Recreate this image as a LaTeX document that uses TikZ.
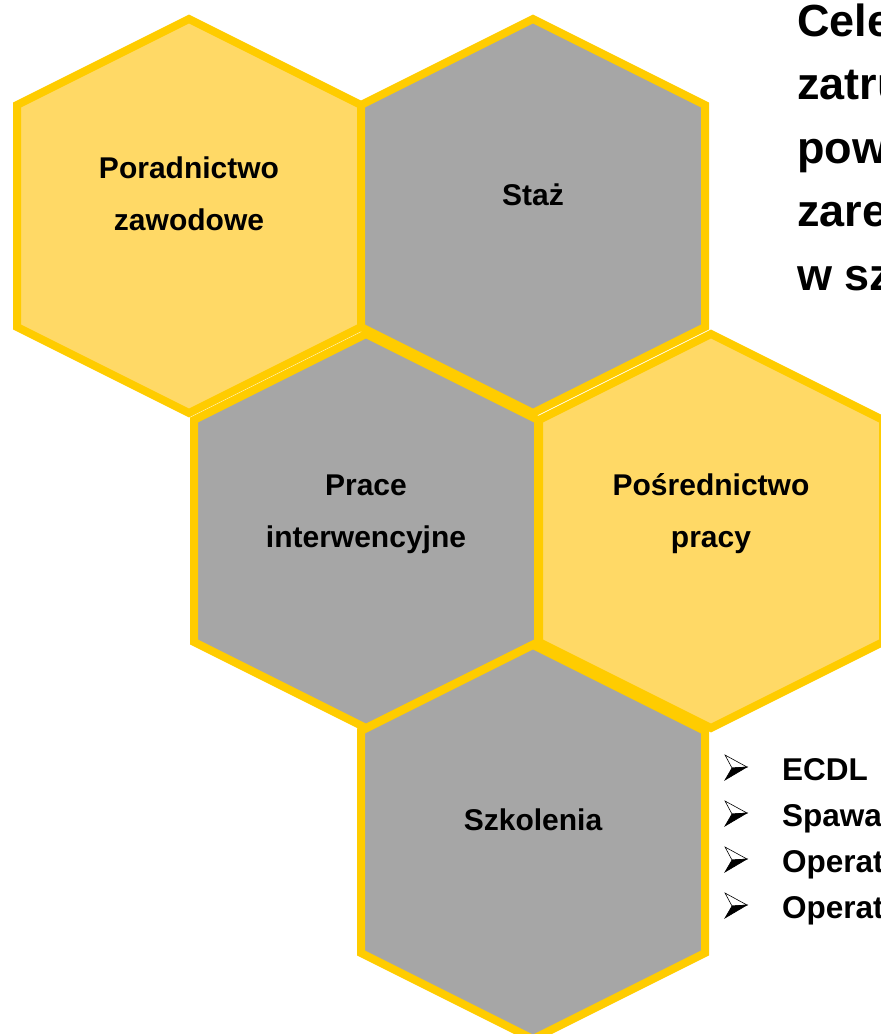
\documentclass[tikz,border=0pt]{standalone}
\usepackage{fontspec}
\setmainfont{Liberation Sans}
\definecolor{hexgold}{HTML}{FFCC00}
\definecolor{hexlight}{HTML}{FFD966}
\definecolor{hexgray}{HTML}{A6A6A6}
\tikzset{
  hexcell/.pic={\path[pic actions] (0,-197) -- (172,-111) -- (172,111) -- (0,197) -- (-172,111) -- (-172,-111) -- cycle;},
  hexline/.style={draw=hexgold, line width=8pt, line join=miter, miter limit=10},
  lightcell/.style={hexline, fill=hexlight},
  graycell/.style={hexline, fill=hexgray},
  celltext/.style={font=\bfseries\fontsize{30}{52}\selectfont, align=center, anchor=base, inner sep=0pt},
  headtext/.style={font=\bfseries\fontsize{45}{63.5}\selectfont, align=left, anchor=base west, inner sep=0pt},
  listtext/.style={font=\bfseries\fontsize{31.5}{46}\selectfont, align=left, anchor=base west, inner sep=0pt},
  arrowbullet/.pic={
    \draw[line width=0.6pt, fill=white, line join=miter] (0,-13) -- (22,-1) -- (7,0) -- cycle;
    \fill[black] (7,0) -- (22,-1) -- (0,12) -- cycle;
    \draw[line width=0.6pt, line join=miter] (7,0) -- (22,-1) -- (0,12) -- cycle;
  }
}
\begin{document}
\begin{tikzpicture}[x=1pt, y=-1pt]
  \useasboundingbox (0,0) rectangle (881,1034);
  \clip (0,0) rectangle (881,1034);
  % hexagons
  \pic[lightcell] at (189,216) {hexcell};
  \pic[graycell]  at (533,216) {hexcell};
  \pic[graycell]  at (366,531) {hexcell};
  \pic[lightcell] at (711,531) {hexcell};
  \pic[graycell]  at (533,842) {hexcell};
  % cell labels (anchor = baseline of the last line)
  \node[celltext] (poradnictwo)  at (189,230) {Poradnictwo\\zawodowe};
  \node[celltext] (staz)         at (533,205) {Staż};
  \node[celltext] (prace)        at (366,547) {Prace\\interwencyjne};
  \node[celltext] (posrednictwo) at (711,547) {Pośrednictwo\\pracy};
  \node[celltext] (szkolenia)    at (533,830) {Szkolenia};
  % heading (cut off at the right edge)
  \node[headtext] (cel) at (797,290) {Celem\\zatrudnienia\\powiatu\\zarejestrowanych\\w szczególności};
  % training list
  \pic at (725,768) {arrowbullet};
  \pic at (725,814) {arrowbullet};
  \pic at (725,860) {arrowbullet};
  \pic at (725,906) {arrowbullet};
  \node[listtext] (kursy) at (782,918) {ECDL\\Spawacz\\Operator\\Operator};
\end{tikzpicture}
\end{document}
